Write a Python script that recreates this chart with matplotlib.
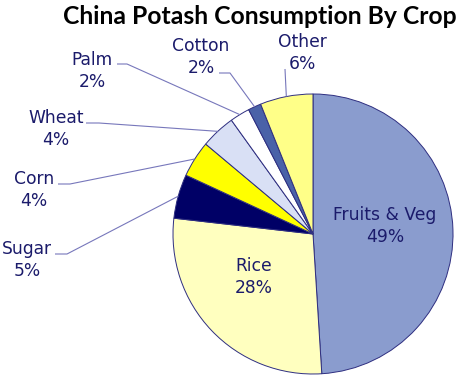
import numpy as np
import matplotlib
matplotlib.use("Agg")
import matplotlib.pyplot as plt

# ---- data ----
crops = ["Fruits & Veg", "Rice", "Sugar", "Corn", "Wheat", "Palm", "Cotton", "Other"]
shares = [49.0, 27.8, 5.1, 4.2, 4.0, 2.3, 1.5, 6.1]
shown_pct = [49, 28, 5, 4, 4, 2, 2, 6]
colors = ["#8A9CCE", "#FFFFBF", "#000066", "#FFFF00", "#D9E0F5", "#FFFFFF", "#4A62A8", "#FFFF88"]

# ---- layout (pixel positions of label centers, leader elbows) ----
W, H = 458, 379
R_PX = 140.0
CX, CY = 313.0, 234.0


def px(x, y):
    return (x - CX) / R_PX, (CY - y) / R_PX


label_pos = {
    "Fruits & Veg": (385, 226),
    "Rice": (254, 277),
    "Sugar": (27, 260),
    "Corn": (34, 190),
    "Wheat": (56, 129),
    "Palm": (92, 71),
    "Cotton": (201, 57),
    "Other": (302, 53),
}
leader_start = {
    "Sugar": [(55, 254), (67, 254)],
    "Corn": [(58, 184), (70, 184)],
    "Wheat": [(86, 123), (99, 123)],
    "Palm": [(117, 64), (127, 64)],
    "Cotton": [(219, 73), (230, 73)],
    "Other": [(285, 69)],
}

text_color = "#1B1B6B"
line_color = "#7777BB"

fig = plt.figure(figsize=(W / 100, H / 100), dpi=100)
ax = fig.add_axes([0, 0, 1, 1])

wedges, _ = ax.pie(shares, colors=colors, startangle=90, counterclock=False,
                   radius=1.0, center=(0, 0),
                   wedgeprops=dict(edgecolor="#2E2E80", linewidth=0.7))

for crop, pct, w in zip(crops, shown_pct, wedges):
    lx, ly = px(*label_pos[crop])
    ax.text(lx, ly, f"{crop}\n{pct}%", ha="center", va="center",
            multialignment="center", fontsize=12.3, color=text_color,
            family="DejaVu Sans", linespacing=1.25)
    if crop in leader_start:
        mid = np.deg2rad((w.theta1 + w.theta2) / 2)
        ex, ey = np.cos(mid), np.sin(mid)
        pts = [px(*p) for p in leader_start[crop]] + [(ex, ey)]
        xs, ys = zip(*pts)
        ax.plot(xs, ys, color=line_color, linewidth=0.8, solid_capstyle="butt")

tx, ty = px(260, 16)
ax.text(tx, ty, "China Potash Consumption By Crop", ha="center", va="center",
        fontsize=17.8, fontweight="bold", family="Lato", color="black")

ax.set_autoscale_on(False)
ax.set_xlim(-CX / R_PX, (W - CX) / R_PX)
ax.set_ylim(-(H - CY) / R_PX, CY / R_PX)
ax.set_aspect("equal")
ax.axis("off")

fig.savefig("out.png", dpi=100)
